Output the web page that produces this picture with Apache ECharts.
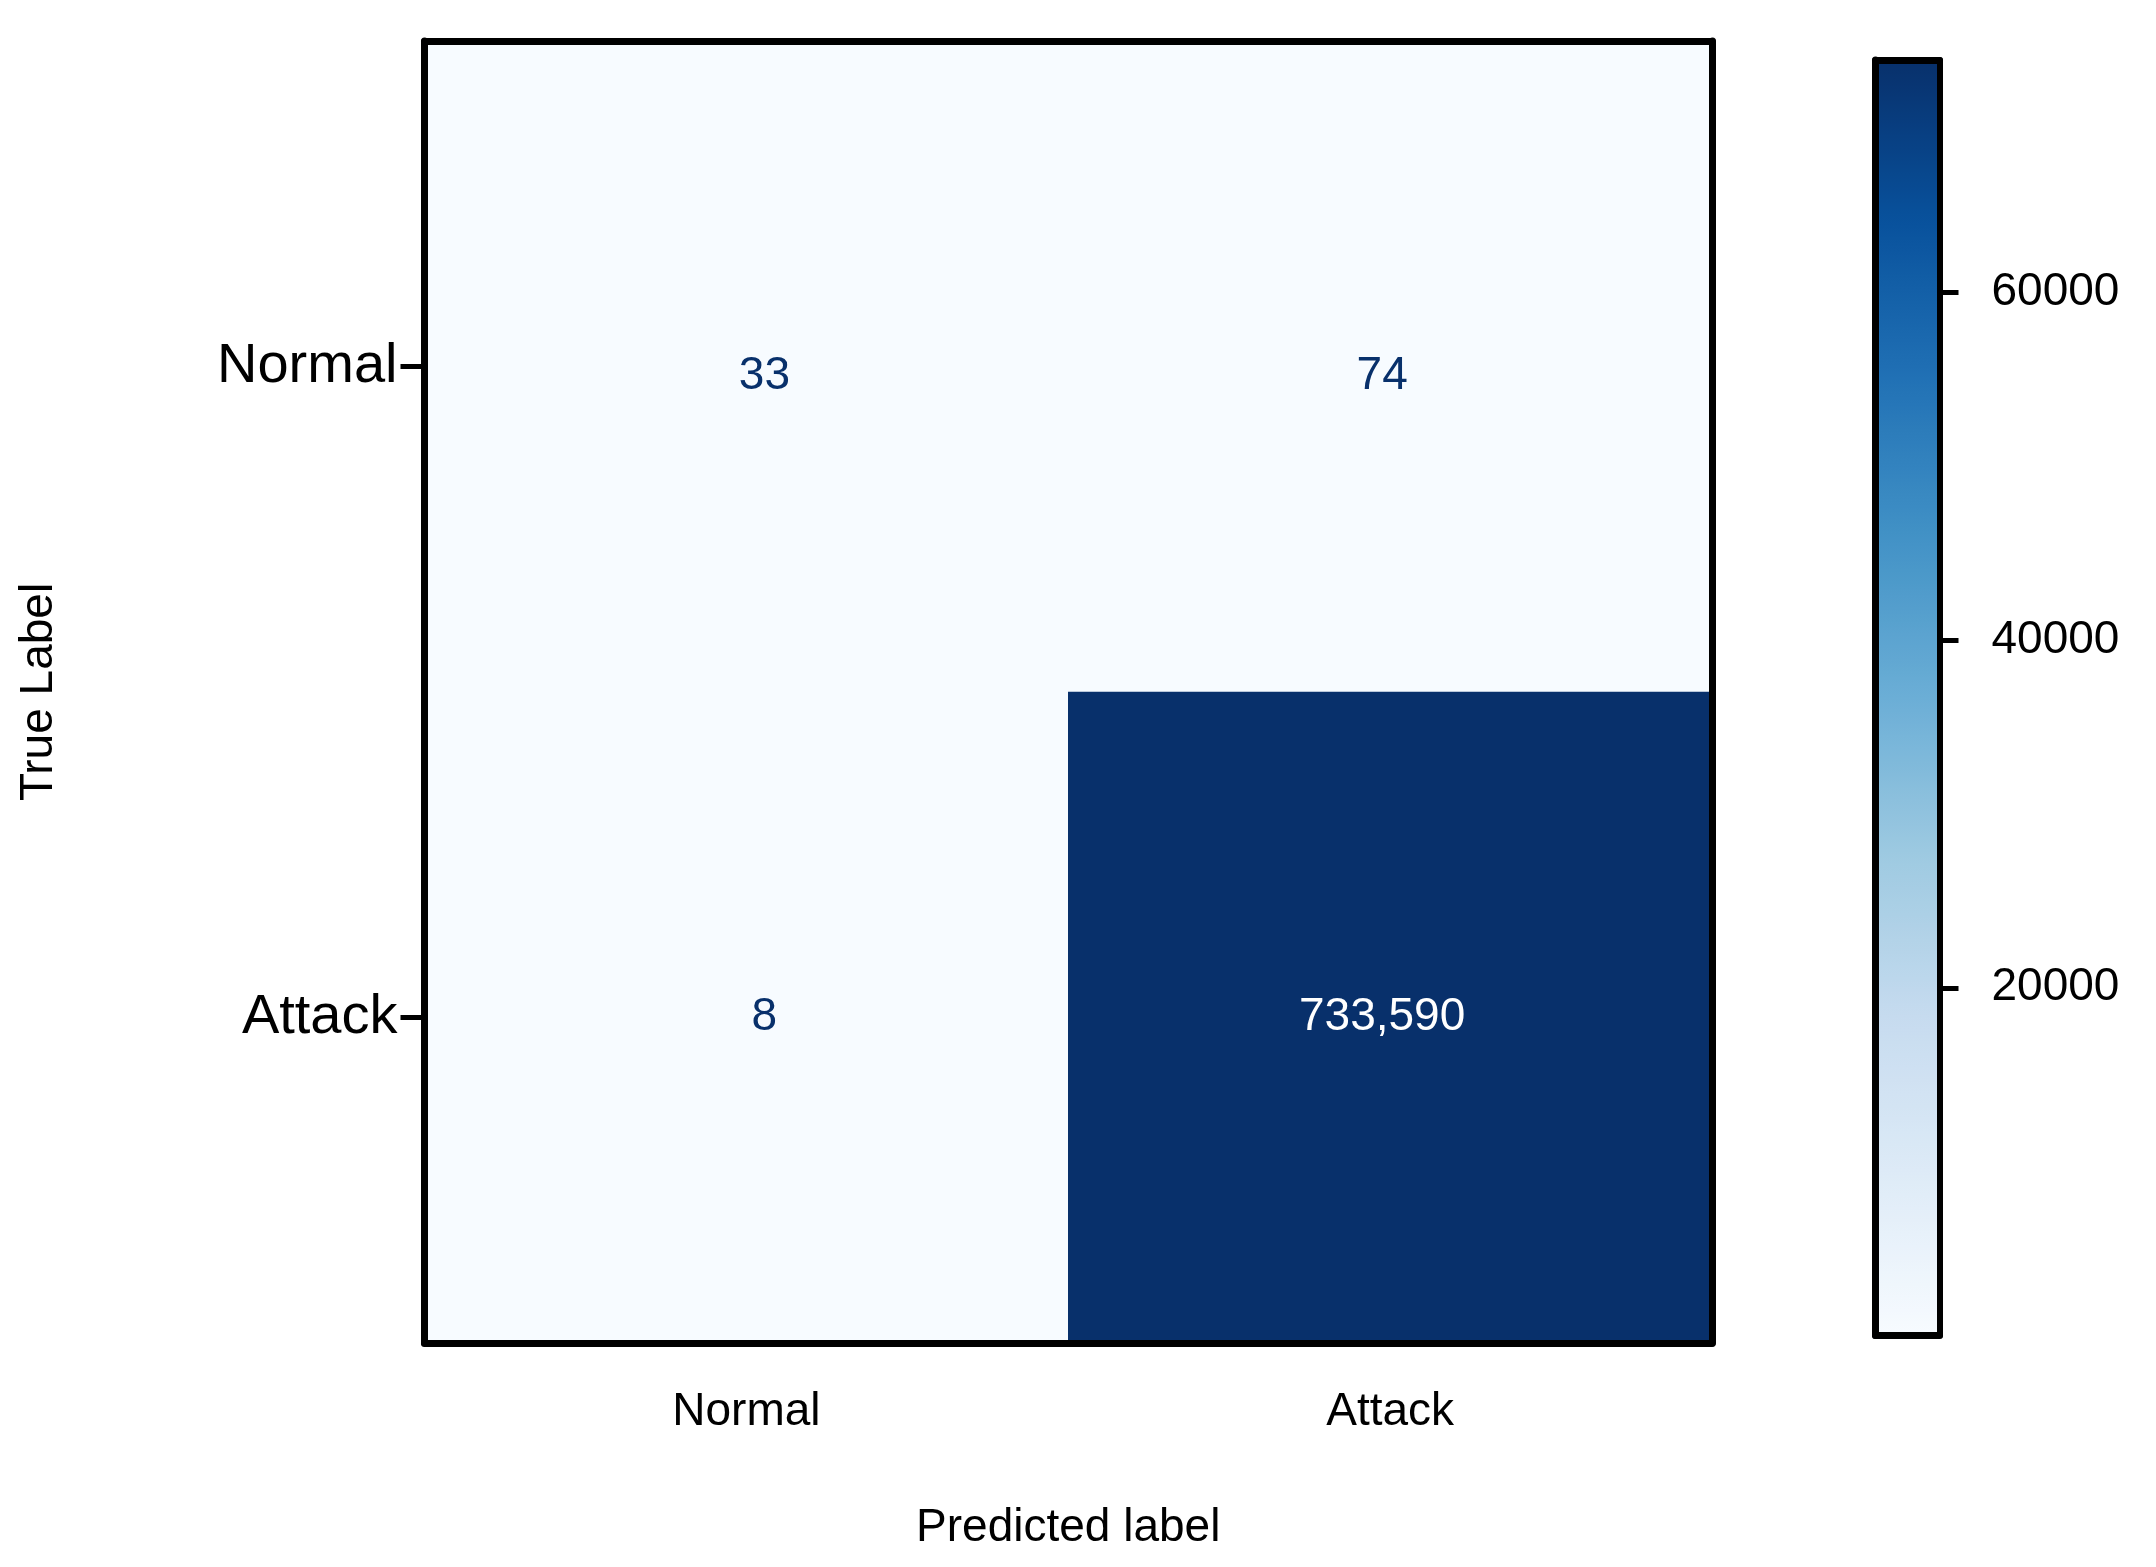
<!DOCTYPE html>
<html>
<head>
<meta charset="utf-8">
<script src="https://cdn.jsdelivr.net/npm/echarts@6/dist/echarts.min.js"></script>
<style>
html,body{margin:0;padding:0;background:#fff;}
#chart{width:2156px;height:1567px;}
</style>
</head>
<body>
<div id="chart"></div>
<script>
// Data
const predictedLabels = ['Normal', 'Attack'];
const trueLabels = ['Normal', 'Attack'];
const rowNormal = [33, 74];
const rowAttack = [8, 733590];
const colorbarMin = 8;
const colorbarMax = 73359;
const colorbarTicks = [20000, 40000, 60000];

const FONT = '"Liberation Sans", Arial, Helvetica, sans-serif';
const blues = ['#f7fbff','#deebf7','#c6dbef','#9ecae1','#6baed6','#4292c6','#2171b5','#08519c','#08306b'];

// small label nudges to mimic reference placement (style only)
const labelNudgeX = [18, -8];
const labelNudgeY = [10, 0];

const rows = [rowNormal, rowAttack];
const data = [];
rows.forEach((row, yi) => {
  row.forEach((v, xi) => {
    data.push({
      value: [xi, yi, v],
      label: {
        color: v > colorbarMax / 2 ? '#ffffff' : '#08306b',
        offset: [labelNudgeX[xi], labelNudgeY[yi]]
      }
    });
  });
});

const chart = echarts.init(document.getElementById('chart'), null, { renderer: 'canvas' });
const frameLine = { show: true, onZero: false, lineStyle: { color: '#000', width: 7 } };

chart.setOption({
  animation: false,
  backgroundColor: '#ffffff',
  grid: [
    { left: 424.5, top: 41, width: 1287.5, height: 1302, containLabel: false },
    { left: 1875.5, top: 60, width: 64, height: 1275.5, containLabel: false }
  ],
  xAxis: [
    {
      gridIndex: 0, type: 'category', data: predictedLabels, position: 'bottom',
      axisLine: frameLine, axisTick: { show: false },
      axisLabel: { fontFamily: FONT, fontSize: 46, color: '#000', margin: 46 },
      name: 'Predicted label', nameLocation: 'middle', nameGap: 162,
      nameTextStyle: { fontFamily: FONT, fontSize: 46, color: '#000' },
      splitLine: { show: false }, z: 10
    },
    {
      gridIndex: 0, type: 'category', data: predictedLabels, position: 'top',
      axisLine: frameLine, axisTick: { show: false }, axisLabel: { show: false },
      splitLine: { show: false }, z: 10
    },
    {
      gridIndex: 1, type: 'category', data: [''], position: 'bottom',
      axisLine: { show: true, onZero: false, lineStyle: { color: '#000', width: 7 } },
      axisTick: { show: false }, axisLabel: { show: false }, z: 10
    },
    {
      gridIndex: 1, type: 'category', data: [''], position: 'top',
      axisLine: { show: true, onZero: false, lineStyle: { color: '#000', width: 7 } },
      axisTick: { show: false }, axisLabel: { show: false }, z: 10
    }
  ],
  yAxis: [
    {
      gridIndex: 0, type: 'category', data: trueLabels, inverse: true, position: 'left',
      axisLine: frameLine,
      axisTick: { show: true, length: 24, alignWithLabel: true, lineStyle: { color: '#000', width: 5 } },
      axisLabel: { fontFamily: FONT, fontSize: 56, color: '#000', margin: 27 },
      name: 'True Label', nameLocation: 'middle', nameGap: 362, nameRotate: 90,
      nameTextStyle: { fontFamily: FONT, fontSize: 46, color: '#000' },
      splitLine: { show: false }, z: 10
    },
    {
      gridIndex: 0, type: 'category', data: trueLabels, inverse: true, position: 'right',
      axisLine: frameLine, axisTick: { show: false }, axisLabel: { show: false },
      splitLine: { show: false }, z: 10
    },
    {
      gridIndex: 1, type: 'value', min: 0, max: colorbarMax, interval: 20000, position: 'right',
      axisLine: { show: true, onZero: false, lineStyle: { color: '#000', width: 6 } },
      axisTick: { show: true, length: 19, lineStyle: { color: '#000', width: 5 } },
      axisLabel: { fontFamily: FONT, fontSize: 46, color: '#000', margin: 52,
        showMinLabel: false, showMaxLabel: false, hideOverlap: false,
        formatter: v => (colorbarTicks.indexOf(v) >= 0 ? String(v) : '') },
      splitLine: { show: false }, z: 10
    },
    {
      gridIndex: 1, type: 'value', min: 0, max: colorbarMax, position: 'left',
      axisLine: { show: true, onZero: false, lineStyle: { color: '#000', width: 7 } },
      axisTick: { show: false }, axisLabel: { show: false }, splitLine: { show: false }, z: 10
    }
  ],
  visualMap: {
    type: 'continuous',
    min: colorbarMin, max: colorbarMax,
    calculable: false,
    seriesIndex: 0,
    orient: 'vertical',
    left: 1876 - 5, top: 60 - 5,
    itemWidth: 64, itemHeight: 1275.5,
    showLabel: false,
    inRange: { color: blues },
    padding: 5
  },
  series: [
    {
      type: 'heatmap',
      xAxisIndex: 0, yAxisIndex: 0,
      data: data,
      label: {
        show: true, fontFamily: FONT, fontSize: 46,
        formatter: p => p.value[2].toLocaleString('en-US')
      },
      itemStyle: { borderWidth: 0 },
      emphasis: { disabled: true },
      z: 2
    }
  ]
});
</script>
</body>
</html>
